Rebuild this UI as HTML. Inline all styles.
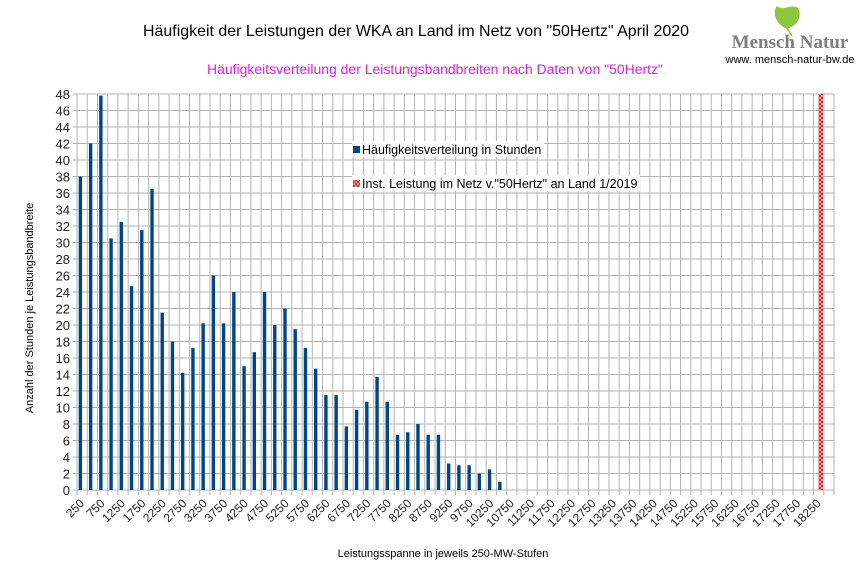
<!DOCTYPE html>
<html><head><meta charset="utf-8"><style>
body{margin:0;background:#fff;width:866px;height:578px;overflow:hidden}
svg{font-family:"Liberation Sans",sans-serif}
</style></head><body>
<svg id="s" width="866" height="578" viewBox="0 0 866 578" xmlns="http://www.w3.org/2000/svg">
<defs>
<pattern id="hx" width="4" height="4" patternUnits="userSpaceOnUse">
<rect width="4" height="4" fill="#f4d0d0"/>
<path d="M0,0L4,4M4,0L0,4" stroke="#b22" stroke-width="1"/>
</pattern>
</defs>
<g id="grid" stroke="#b3b3b3" stroke-width="1"></g>
<g id="bars"></g>
<rect x="818.5" y="94" width="4.5" height="396" fill="url(#hx)"/>
<text x="416" y="36" font-size="16" text-anchor="middle" fill="#000" textLength="546" lengthAdjust="spacingAndGlyphs">Häufigkeit der Leistungen der WKA an Land im Netz von "50Hertz" April 2020</text>
<text x="435" y="74" font-size="13.5" text-anchor="middle" fill="#e020e0" textLength="456" lengthAdjust="spacingAndGlyphs">Häufigkeitsverteilung der Leistungsbandbreiten nach Daten von "50Hertz"</text>
<path d="M787,28 C777,24 773,14 777,7 C783,12 790,5 797,8 C802,16 797,25 787,28 Z M787,28 L792,36" fill="#8dc63f" stroke="#8dc63f" stroke-width="1.5"/>
<text x="790" y="48" font-size="19" text-anchor="middle" fill="#7f7f7f" font-family="Liberation Serif,serif" font-weight="bold">Mensch Natur</text>
<text x="790" y="63" font-size="11" text-anchor="middle" fill="#000">www. mensch-natur-bw.de</text>
<rect x="352" y="141" width="192" height="16" fill="#fff"/>
<rect x="352" y="175" width="288" height="16" fill="#fff"/>
<rect x="353" y="146" width="7" height="7" fill="#004586"/>
<text x="362" y="154" font-size="12.5" fill="#000">Häufigkeitsverteilung in Stunden</text>
<rect x="353" y="180" width="7" height="7" fill="url(#hx)"/>
<text x="362" y="188" font-size="12.5" fill="#000">Inst. Leistung im Netz v."50Hertz" an Land 1/2019</text>
<g font-size="13" text-anchor="end" fill="#222">
<text x="70" y="495">0</text><text x="70" y="478.5">2</text><text x="70" y="462">4</text><text x="70" y="445.5">6</text><text x="70" y="429">8</text><text x="70" y="412.5">10</text><text x="70" y="396">12</text><text x="70" y="379.5">14</text><text x="70" y="363">16</text><text x="70" y="346.5">18</text><text x="70" y="330">20</text><text x="70" y="313.5">22</text><text x="70" y="297">24</text><text x="70" y="280.5">26</text><text x="70" y="264">28</text><text x="70" y="247.5">30</text><text x="70" y="231">32</text><text x="70" y="214.5">34</text><text x="70" y="198">36</text><text x="70" y="181.5">38</text><text x="70" y="165">40</text><text x="70" y="148.5">42</text><text x="70" y="132">44</text><text x="70" y="115.5">46</text><text x="70" y="99">48</text>
</g>
<g font-size="12" text-anchor="end" fill="#222">
<text transform="translate(85,504) rotate(-45)">250</text><text transform="translate(105.5,504) rotate(-45)">750</text><text transform="translate(125.9,504) rotate(-45)">1250</text><text transform="translate(146.4,504) rotate(-45)">1750</text><text transform="translate(166.8,504) rotate(-45)">2250</text><text transform="translate(187.3,504) rotate(-45)">2750</text><text transform="translate(207.8,504) rotate(-45)">3250</text><text transform="translate(228.2,504) rotate(-45)">3750</text><text transform="translate(248.7,504) rotate(-45)">4250</text><text transform="translate(269.1,504) rotate(-45)">4750</text><text transform="translate(289.6,504) rotate(-45)">5250</text><text transform="translate(310.1,504) rotate(-45)">5750</text><text transform="translate(330.5,504) rotate(-45)">6250</text><text transform="translate(351,504) rotate(-45)">6750</text><text transform="translate(371.4,504) rotate(-45)">7250</text><text transform="translate(391.9,504) rotate(-45)">7750</text><text transform="translate(412.4,504) rotate(-45)">8250</text><text transform="translate(432.8,504) rotate(-45)">8750</text><text transform="translate(453.3,504) rotate(-45)">9250</text><text transform="translate(473.7,504) rotate(-45)">9750</text><text transform="translate(494.2,504) rotate(-45)">10250</text><text transform="translate(514.7,504) rotate(-45)">10750</text><text transform="translate(535.1,504) rotate(-45)">11250</text><text transform="translate(555.6,504) rotate(-45)">11750</text><text transform="translate(576,504) rotate(-45)">12250</text><text transform="translate(596.5,504) rotate(-45)">12750</text><text transform="translate(617,504) rotate(-45)">13250</text><text transform="translate(637.4,504) rotate(-45)">13750</text><text transform="translate(657.9,504) rotate(-45)">14250</text><text transform="translate(678.3,504) rotate(-45)">14750</text><text transform="translate(698.8,504) rotate(-45)">15250</text><text transform="translate(719.3,504) rotate(-45)">15750</text><text transform="translate(739.7,504) rotate(-45)">16250</text><text transform="translate(760.2,504) rotate(-45)">16750</text><text transform="translate(780.6,504) rotate(-45)">17250</text><text transform="translate(801.1,504) rotate(-45)">17750</text><text transform="translate(821.6,504) rotate(-45)">18250</text>
</g>
<text transform="translate(33,308) rotate(-90)" font-size="11" text-anchor="middle" fill="#000">Anzahl der Stunden je Leistungsbandbreite</text>
<text x="443" y="557" font-size="11" text-anchor="middle" fill="#000">Leistungsspanne in jeweils 250-MW-Stufen</text>
</svg>
<script>
var NS="http://www.w3.org/2000/svg",g=document.getElementById("grid"),b=document.getElementById("bars");
function el(p,t,a){var e=document.createElementNS(NS,t);for(var k in a)e.setAttribute(k,a[k]);p.appendChild(e);}
var L=77,R=834,T=94,B=490,cw=(R-L)/74;
for(var v=0;v<=48;v+=2){var y=B-8.25*v;el(g,"line",{x1:L-4,x2:R,y1:y,y2:y});}
for(var i=0;i<=74;i++){var x=L+i*cw;el(g,"line",{x1:x,x2:x,y1:T,y2:B+5});}
var d=[38,42,47.8,30.5,32.5,24.7,31.5,36.5,21.5,18,14.2,17.2,20.2,26,20.2,24,15,16.7,24,20,22,19.5,17.2,14.7,11.5,11.5,7.7,9.7,10.7,13.7,10.7,6.7,7,8,6.7,6.7,3.2,3,3,2,2.5,1];
d.forEach(function(v,i){el(b,"rect",{x:L+i*cw+1.7,y:B-8.25*v,width:3.4,height:8.25*v,fill:"#004586"});});
</script>
</body></html>
